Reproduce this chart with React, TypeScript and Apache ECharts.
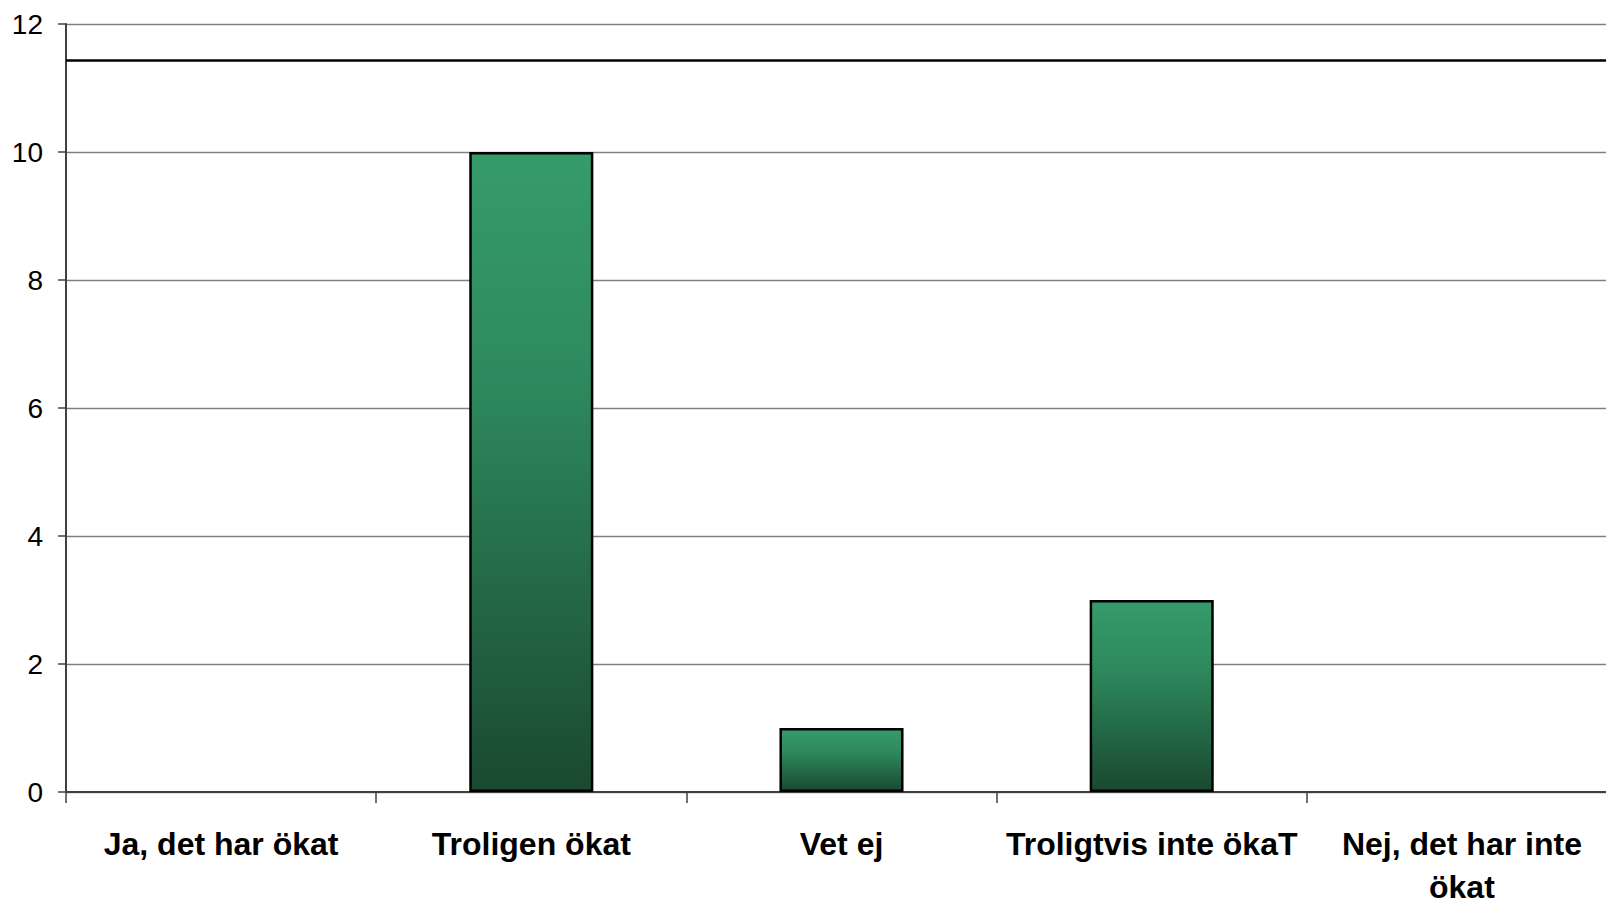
import React, { useEffect, useRef } from "react";
import * as echarts from "echarts";

const categories = [
  "Ja, det har ökat",
  "Troligen ökat",
  "Vet ej",
  "Troligtvis inte ökaT",
  "Nej, det har inte\nökat",
];
const values = [0, 10, 1, 3, 0];
const referenceLine = 11.43;
const yMin = 0;
const yMax = 12;
const yInterval = 2;

export default function App() {
  const ref = useRef<HTMLDivElement>(null);
  useEffect(() => {
    if (!ref.current) return;
    const chart = echarts.init(ref.current, null, { renderer: "svg" });
    chart.setOption({
      animation: false,
      backgroundColor: "#ffffff",
      textStyle: { fontFamily: "Liberation Sans, Arial, sans-serif" },
      grid: {
        left: 66,
        top: 24,
        width: 1551,
        height: 768,
        containLabel: false,
        outerBoundsMode: "none",
      },
      xAxis: {
        type: "category",
        data: categories,
        axisLine: { lineStyle: { color: "#404040", width: 2 } },
        axisTick: { show: true, length: 11, lineStyle: { color: "#404040", width: 1.5 } },
        axisLabel: {
          interval: 0,
          margin: 30,
          fontSize: 32,
          fontWeight: "bold",
          color: "#000000",
          lineHeight: 43,
          fontFamily: "Liberation Sans, Arial, sans-serif",
        },
        splitLine: { show: false },
      },
      yAxis: {
        type: "value",
        min: yMin,
        max: yMax,
        interval: yInterval,
        axisLine: { show: true, lineStyle: { color: "#404040", width: 2 } },
        axisTick: { show: true, length: 8, lineStyle: { color: "#404040", width: 1.5 } },
        axisLabel: {
          margin: 23,
          fontSize: 28,
          color: "#000000",
          fontFamily: "Liberation Sans, Arial, sans-serif",
        },
        splitLine: { show: true, lineStyle: { color: "#808080", width: 1.3 } },
      },
      series: [
        {
          type: "bar",
          data: values.map((v) => ({
            value: v,
            itemStyle: { borderWidth: v === 0 ? 0 : 2.5 },
          })),
          barWidth: "40%",
          itemStyle: {
            color: new echarts.graphic.LinearGradient(0, 0, 0, 1, [
              { offset: 0, color: "#369b6b" },
              { offset: 0.35, color: "#2e8a5e" },
              { offset: 1, color: "#1a4930" },
            ]),
            borderColor: "#000000",
            borderWidth: 2.5,
          },
          markLine: {
            silent: true,
            symbol: ["none", "none"],
            label: { show: false },
            lineStyle: { color: "#000000", width: 2.5, type: "solid" },
            data: [{ yAxis: referenceLine }],
          },
        },
      ],
    });
    return () => chart.dispose();
  }, []);
  return (
    <div
      ref={ref}
      style={{ position: "fixed", left: 0, top: 0, width: 1606, height: 901, background: "#fff" }}
    />
  );
}
